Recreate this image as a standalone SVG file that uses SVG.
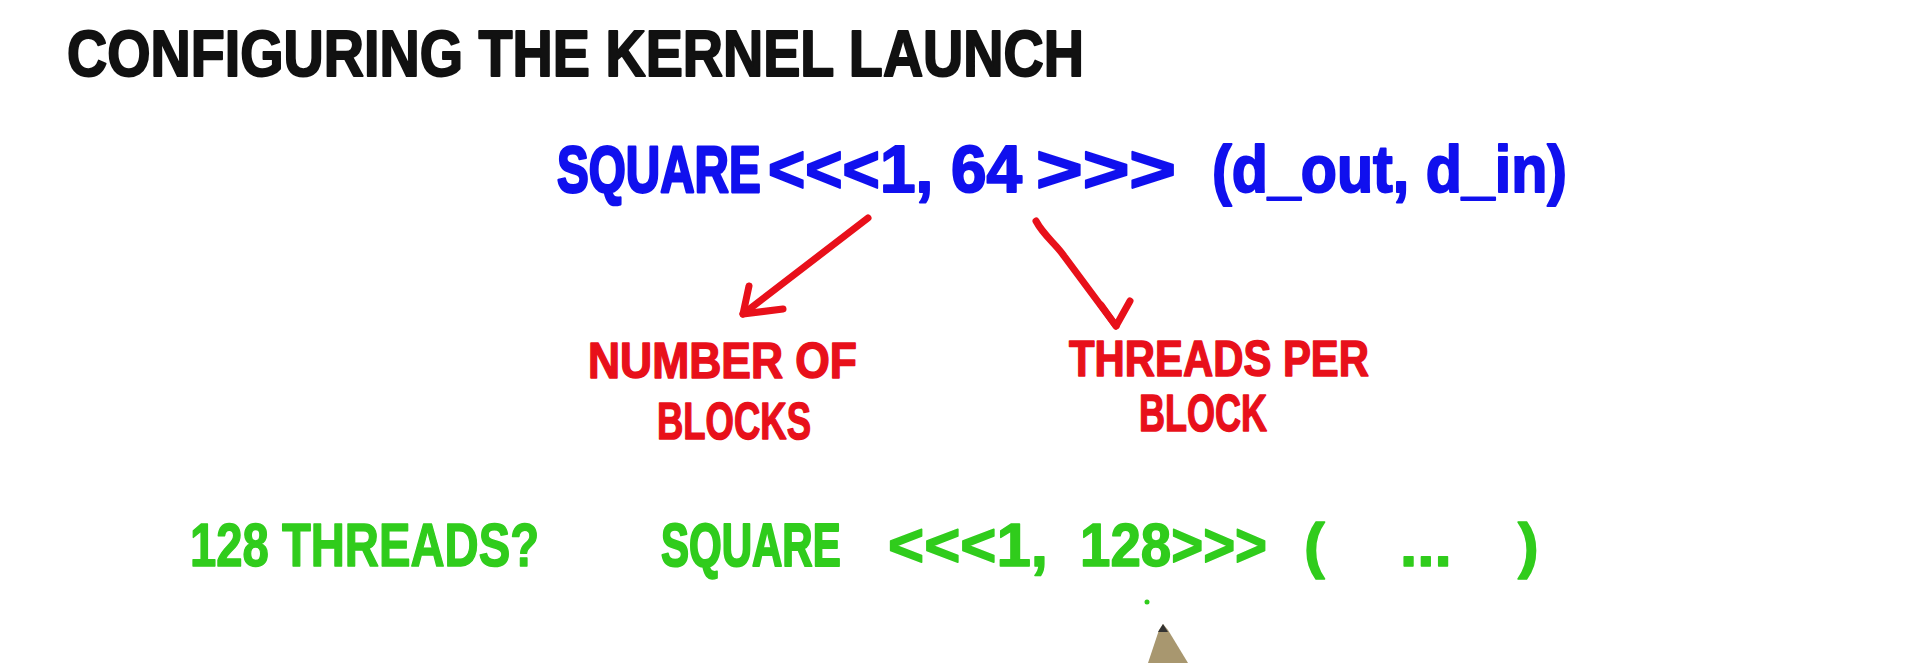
<svg xmlns="http://www.w3.org/2000/svg" width="1920" height="663" viewBox="0 0 1920 663">
<style>
.t{font-family:"Liberation Sans","DejaVu Sans",sans-serif;font-weight:bold;stroke-linejoin:round;stroke-linecap:round}
.blk{fill:#111;stroke:#111;stroke-width:2}
.blu{fill:#1010ee;stroke:#1010ee;stroke-width:2}
.red{fill:#e8101a;stroke:#e8101a;stroke-width:1.5}
.grn{fill:#30cc1c;stroke:#30cc1c;stroke-width:1.5}
.arr{fill:none;stroke:#e8101a;stroke-width:7;stroke-linecap:round;stroke-linejoin:round}
</style>
<rect width="1920" height="663" fill="#ffffff"/>
<g id="title">
<text class="t blk" x="67" y="76" font-size="64" textLength="1017" lengthAdjust="spacingAndGlyphs">CONFIGURING THE KERNEL LAUNCH</text>
</g>
<g id="launch-call">
<text class="t blu" transform="translate(557,192) scale(1,1.38)" x="0" y="0" font-size="47.6">SQUARE</text>
<text class="t blu" x="768" y="192" font-size="66" textLength="254" lengthAdjust="spacingAndGlyphs">&lt;&lt;&lt;1, 64</text>
<text class="t blu" x="1036" y="192" font-size="66" textLength="140" lengthAdjust="spacingAndGlyphs">&gt;&gt;&gt;</text>
<text class="t blu" x="1212" y="192" font-size="66" textLength="355" lengthAdjust="spacingAndGlyphs">(d_out, d_in)</text>
</g>
<g id="num-blocks">
<text class="t red" x="588" y="378" font-size="50" textLength="269" lengthAdjust="spacingAndGlyphs">NUMBER OF</text>
<text class="t red" x="657" y="439" font-size="52" textLength="154" lengthAdjust="spacingAndGlyphs">BLOCKS</text>
</g>
<g id="threads-per-block">
<text class="t red" x="1069" y="376" font-size="50" textLength="300" lengthAdjust="spacingAndGlyphs">THREADS PER</text>
<text class="t red" x="1139" y="431" font-size="52" textLength="128" lengthAdjust="spacingAndGlyphs">BLOCK</text>
</g>
<g id="question">
<text class="t grn" x="190" y="566" font-size="62" textLength="349" lengthAdjust="spacingAndGlyphs">128 THREADS?</text>
</g>
<g id="launch-128">
<text class="t grn" transform="translate(661,566) scale(1,1.47)" x="0" y="0" font-size="42">SQUARE</text>
<text class="t grn" x="888" y="566" font-size="62" textLength="160" lengthAdjust="spacingAndGlyphs">&lt;&lt;&lt;1,</text>
<text class="t grn" x="1080" y="566" font-size="62" textLength="187" lengthAdjust="spacingAndGlyphs">128&gt;&gt;&gt;</text>
<text class="t grn" x="1304" y="566" font-size="62">(</text>
<text class="t grn" x="1400" y="566" font-size="62">...</text>
<text class="t grn" x="1518" y="566" font-size="62">)</text>
</g>
<g id="connectors">
<path class="arr" d="M868 218 L743 314"/>
<path class="arr" d="M749 286 L743 314 L783 309"/>
<path class="arr" d="M1036 221 C1044 236 1056 244 1064 256 L1116 326"/>
<path class="arr" d="M1101 305 L1116 326 L1130 301"/>
</g>
<g id="pen">
<circle cx="1147" cy="602" r="2.5" fill="#30cc1c"/>
<polygon points="1163,624 1168,630 1188,663 1148,663 1159,630" fill="#a8976f"/>
<polygon points="1163,624 1168,632 1158,632" fill="#333"/>
</g>
</svg>
